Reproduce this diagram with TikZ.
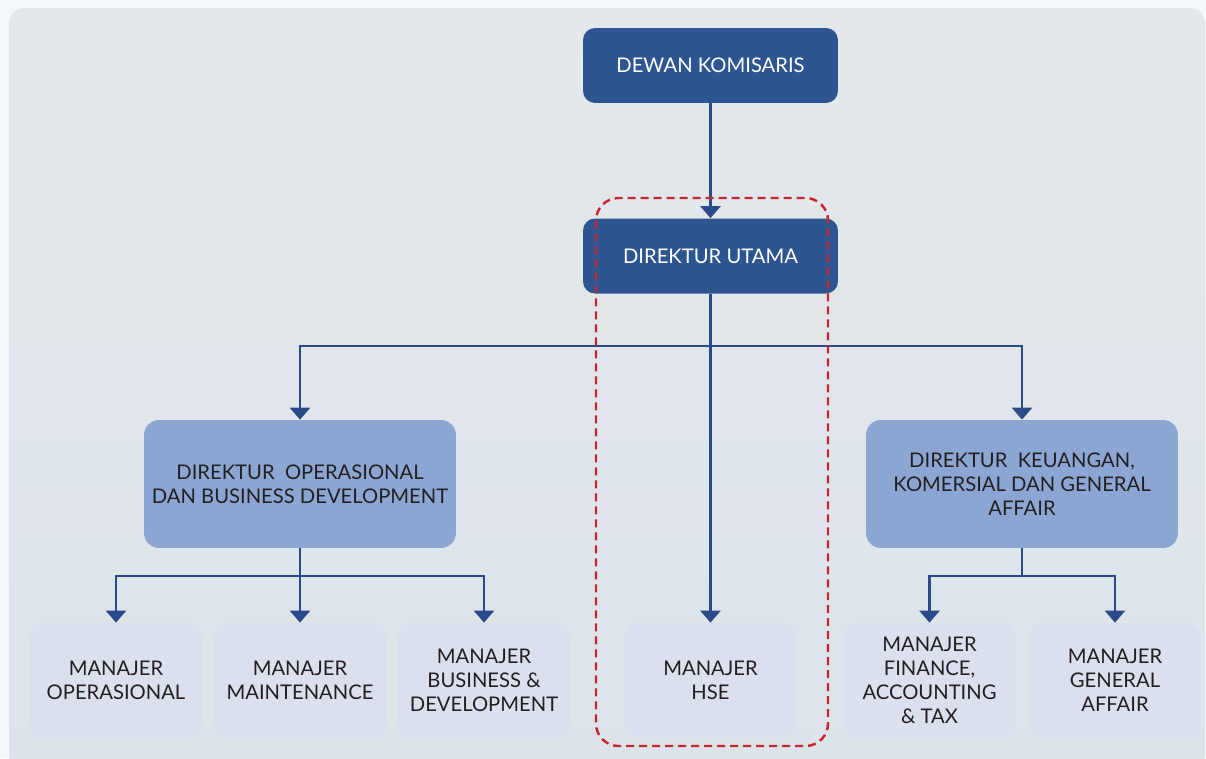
\documentclass[tikz,border=0pt]{standalone}
\usepackage{fontspec}
\setmainfont{Lato}
\usetikzlibrary{arrows.meta}
\definecolor{navy}{HTML}{2D5591}
\definecolor{lineblue}{HTML}{2B4A8A}
\definecolor{midblue}{HTML}{8BA6D3}
\definecolor{paleblue}{HTML}{DAE0EE}
\definecolor{dashred}{HTML}{C9252F}
\definecolor{inktext}{HTML}{231F20}
\definecolor{outerbg}{HTML}{F4F9FC}
\definecolor{paneltop}{HTML}{E4E8EC}
\definecolor{panelbot}{HTML}{DCE4EA}
\begin{document}
\begin{tikzpicture}[x=0.02cm,y=-0.02cm,
    labeltext/.style={align=center, inner sep=0pt, font=\fontsize{11.5}{13.7}\selectfont},
    board/.style={labeltext, fill=navy, text=white, rounded corners=0.24cm,
        minimum width=5.1cm, minimum height=1.5cm},
    director/.style={labeltext, fill=midblue, text=inktext, rounded corners=0.3cm,
        minimum width=6.24cm, minimum height=2.56cm},
    manager/.style={labeltext, fill=paleblue, text=inktext, rounded corners=0.3cm,
        minimum width=3.44cm, minimum height=2.3cm},
    link/.style={draw=lineblue, line width=1.4pt},
    arrowlink/.style={link, -{Triangle[width=0.4cm,length=0.24cm]}},
    hsegroup/.style={draw=dashred, line width=1.4pt, dash pattern=on 0.16cm off 0.1cm,
        rounded corners=0.45cm}]
    % background
    \clip (0,0) rectangle (1206,758);
    \fill[outerbg] (0,0) rectangle (1206,758);
    \shade[top color=paneltop, bottom color=panelbot, rounded corners=0.3cm] (9,8) rectangle (1205,775);

    % boxes
    \node[board] (dewan) at (710.5,65.5) {DEWAN KOMISARIS};
    \node[board] (utama) at (710.5,256) {DIREKTUR UTAMA};
    \node[director] (dirops) at (300,484) {DIREKTUR\ \ OPERASIONAL\\DAN BUSINESS DEVELOPMENT};
    \node[director] (dirkeu) at (1022,484) {DIREKTUR\ \ KEUANGAN,\\KOMERSIAL DAN GENERAL\\AFFAIR};
    \node[manager] (mgrops) at (116,680.5) {MANAJER\\OPERASIONAL};
    \node[manager] (mgrmtc) at (300,680.5) {MANAJER\\MAINTENANCE};
    \node[manager] (mgrbiz) at (484,680.5) {MANAJER\\BUSINESS \&\\DEVELOPMENT};
    \node[manager] (mgrhse) at (710.5,680.5) {MANAJER\\HSE};
    \node[manager] (mgrfin) at (929.5,680.5) {MANAJER\\FINANCE,\\ACCOUNTING\\\& TAX};
    \node[manager] (mgrga) at (1115,680.5) {MANAJER\\GENERAL\\AFFAIR};

    % connectors
    \coordinate (split) at (710.5,346);
    \coordinate (opsjoint) at (300,576);
    \coordinate (keujoint) at (1022,576);
    \draw[arrowlink] (dewan) -- (utama);
    \draw[arrowlink] (utama) -- (mgrhse);
    \draw[arrowlink] (split) -| (dirops);
    \draw[arrowlink] (split) -| (dirkeu);
    \draw[link] (dirops) -- (opsjoint);
    \draw[arrowlink] (opsjoint) -| (mgrops);
    \draw[arrowlink] (opsjoint) -- (mgrmtc);
    \draw[arrowlink] (opsjoint) -| (mgrbiz);
    \draw[link] (dirkeu) -- (keujoint);
    \draw[arrowlink] (keujoint) -| (mgrfin);
    \draw[arrowlink] (keujoint) -| (mgrga);

    % HSE group
    \draw[hsegroup] (596,198) rectangle (828,746);
\end{tikzpicture}
\end{document}
